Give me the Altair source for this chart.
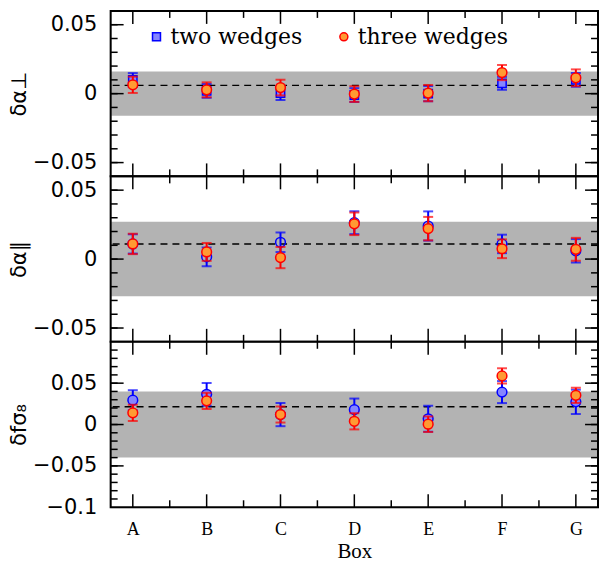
import json
import altair as alt
import pandas as pd

# ---------------- data ----------------
boxes = ["A", "B", "C", "D", "E", "F", "G"]
box_pos = [1, 2, 3, 4, 5, 6, 7]
series_names = ["two wedges", "three wedges"]

# delta alpha_perp
perp_two = [0.0099, 0.0020, 0.0004, -0.0010, 0.0000, 0.0075, 0.0100]
perp_two_err = [0.0050, 0.0050, 0.0050, 0.0050, 0.0055, 0.0047, 0.0050]
perp_three = [0.0064, 0.0028, 0.0044, -0.0003, 0.0004, 0.0153, 0.0115]
perp_three_err = [0.0059, 0.0054, 0.0057, 0.0057, 0.0059, 0.0055, 0.0061]
perp_band = 0.016
perp_line = 0.006

# delta alpha_parallel
par_two = [0.0110, 0.0016, 0.0122, 0.0264, 0.0240, 0.0110, 0.0060]
par_two_err = [0.0070, 0.0068, 0.0071, 0.0083, 0.0106, 0.0067, 0.0085]
par_three = [0.0110, 0.0052, 0.0011, 0.0256, 0.0221, 0.0075, 0.0071]
par_three_err = [0.0074, 0.0065, 0.0077, 0.0082, 0.0085, 0.0068, 0.0083]
par_band = 0.027
par_line = 0.011

# delta f sigma_8
fs_two = [0.0294, 0.0365, 0.0120, 0.0180, 0.0070, 0.0392, 0.0274]
fs_two_err = [0.0121, 0.0137, 0.0140, 0.0134, 0.0157, 0.0133, 0.0147]
fs_three = [0.0141, 0.0286, 0.0121, 0.0039, 0.0004, 0.0588, 0.0353]
fs_three_err = [0.0098, 0.0098, 0.0097, 0.0098, 0.0094, 0.0092, 0.0092]
fs_band = 0.040
fs_line = 0.0215

# axis ticks
alpha_labels = [-0.05, 0.0, 0.05]
alpha_major = [-0.05, 0.0, 0.05]
alpha_minor = [-0.05, -0.04, -0.03, -0.02, -0.01, 0.0, 0.01, 0.02, 0.03, 0.04, 0.05]
fs_labels = [-0.1, -0.05, 0.0, 0.05]
fs_major = [-0.05, 0.0, 0.05]
fs_minor = [-0.09, -0.08, -0.07, -0.06, -0.05, -0.04, -0.03, -0.02, -0.01, 0.0,
            0.01, 0.02, 0.03, 0.04, 0.05, 0.06, 0.07, 0.08, 0.09]
x_major = [1, 2, 3, 4, 5, 6, 7]
x_minor = [1.5, 2.5, 3.5, 4.5, 5.5, 6.5]

# ---------------- style ----------------
W, H = 489, 166
MAJ, MIN = 13, 7
BLUE, RED = "#0000ff", "#ff0000"
ORANGE = "#ff9a33"
LIGHTBLUE = "#8585ff"
GRAY = "#b3b3b3"


def make_df(vals, errs, name):
    return pd.DataFrame({
        "x": box_pos,
        "v": vals,
        "lo": [v - e for v, e in zip(vals, errs)],
        "hi": [v + e for v, e in zip(vals, errs)],
        "series": name,
    })


def panel(two, two_err, three, three_err, ydom, band, line, ytitle,
          ylabels, ymajor, yminor, blue_kind, bottom):
    d2 = make_df(two, two_err, series_names[0])
    d3 = make_df(three, three_err, series_names[1])

    yscale = alt.Scale(domain=ydom, nice=False, zero=False)
    yaxis = alt.Axis(values=ylabels, format="~g", ticks=False, domain=False, grid=False,
                     labelFont="DejaVu Sans", labelFontSize=21, labelColor="black",
                     labelPadding=14, title=ytitle, titleFont="DejaVu Sans",
                     titleFontSize=21, titleFontWeight="normal", titleColor="black",
                     titlePadding=3, minExtent=78, maxExtent=78)
    xscale = alt.Scale(domain=[0.7, 7.3], nice=False, zero=False)
    if bottom:
        xaxis = alt.Axis(values=box_pos,
                         labelExpr=json.dumps(boxes) + "[datum.value - 1]",
                         ticks=False, domain=False, grid=False,
                         labelFont="Liberation Serif", labelFontSize=18, labelColor="black",
                         labelPadding=13, title="Box", titleFont="Liberation Serif",
                         titleFontSize=21, titleFontWeight="normal", titleColor="black",
                         titlePadding=2)
    else:
        xaxis = None

    def Y(f):
        return alt.Y(f, scale=yscale, axis=yaxis)

    def X(f):
        return alt.X(f, scale=xscale, axis=xaxis)

    layers = []
    # band
    layers.append(alt.Chart(pd.DataFrame({"lo": [-band], "hi": [band]})).mark_rect(
        color=GRAY).encode(x=alt.value(0), x2=alt.value(W), y=Y("lo:Q"), y2="hi:Q"))
    # dashed line
    layers.append(alt.Chart(pd.DataFrame({"c": [line]})).mark_rule(
        color="black", strokeDash=[7, 5], strokeWidth=1.5).encode(y=Y("c:Q")))

    # ticks (inside, all four sides)
    tk = dict(color="black", strokeWidth=1.5)
    ymaj = pd.DataFrame({"t": ymajor})
    ymin = pd.DataFrame({"t": yminor})
    xmaj = pd.DataFrame({"t": x_major})
    xmin = pd.DataFrame({"t": x_minor})
    for d, L in ((ymin, MIN), (ymaj, MAJ)):
        layers.append(alt.Chart(d).mark_rule(**tk).encode(
            y=Y("t:Q"), x=alt.value(0), x2=alt.value(L)))
        layers.append(alt.Chart(d).mark_rule(**tk).encode(
            y=Y("t:Q"), x=alt.value(W - L), x2=alt.value(W)))
    for d, L in ((xmin, MIN), (xmaj, MAJ)):
        layers.append(alt.Chart(d).mark_rule(**tk).encode(
            x=X("t:Q"), y=alt.value(0), y2=alt.value(L)))
        layers.append(alt.Chart(d).mark_rule(**tk).encode(
            x=X("t:Q"), y=alt.value(H - L), y2=alt.value(H)))

    def errbars(d, col):
        out = [alt.Chart(d).mark_rule(color=col, strokeWidth=2).encode(
            x=X("x:Q"), y=Y("lo:Q"), y2="hi:Q")]
        for f in ("lo", "hi"):
            out.append(alt.Chart(d).mark_tick(
                color=col, orient="horizontal", size=10, thickness=2).encode(
                x=X("x:Q"), y=Y(f + ":Q")))
        return out

    legend = alt.Legend(orient="none", legendX=35, legendY=15, direction="horizontal",
                        title=None, labelFont="DejaVu Serif", labelFontSize=22,
                        labelColor="black", symbolSize=64, symbolStrokeWidth=1.5,
                        labelOffset=3, columnPadding=30, padding=0)

    def legend_enc():
        return dict(
            shape=alt.Shape("series:N", scale=alt.Scale(domain=series_names,
                                                        range=["square", "circle"]),
                            legend=legend),
            fill=alt.Fill("series:N", scale=alt.Scale(domain=series_names,
                                                      range=[LIGHTBLUE, ORANGE]),
                          legend=legend),
            stroke=alt.Stroke("series:N", scale=alt.Scale(domain=series_names,
                                                          range=[BLUE, RED]),
                              legend=legend),
        )

    # blue (two wedges)
    layers += errbars(d2, BLUE)
    if blue_kind == "square":
        layers.append(alt.Chart(d2).mark_point(filled=True, size=70, strokeWidth=1.5,
                                               opacity=1).encode(
            x=X("x:Q"), y=Y("v:Q"), **legend_enc()))
    elif blue_kind == "open":
        layers.append(alt.Chart(d2).mark_point(shape="circle", filled=False, size=95,
                                               stroke=BLUE, strokeWidth=1.5,
                                               opacity=1).encode(
            x=X("x:Q"), y=Y("v:Q")))
    else:
        layers.append(alt.Chart(d2).mark_point(shape="circle", filled=True, size=95,
                                               fill=LIGHTBLUE, stroke=BLUE,
                                               strokeWidth=1.5, opacity=1).encode(
            x=X("x:Q"), y=Y("v:Q")))

    # red/orange (three wedges)
    layers += errbars(d3, RED)
    if blue_kind == "square":
        layers.append(alt.Chart(d3).mark_point(filled=True, size=95, strokeWidth=1.5,
                                               opacity=1).encode(
            x=X("x:Q"), y=Y("v:Q"), **legend_enc()))
    else:
        layers.append(alt.Chart(d3).mark_point(shape="circle", filled=True, size=95,
                                               fill=ORANGE, stroke=RED,
                                               strokeWidth=1.5, opacity=1).encode(
            x=X("x:Q"), y=Y("v:Q")))

    # frame
    layers.append(alt.Chart(pd.DataFrame({"a": [0]})).mark_rect(
        filled=False, stroke="black", strokeWidth=2).encode(
        x=alt.value(0), x2=alt.value(W), y=alt.value(0), y2=alt.value(H)))

    return alt.layer(*layers).properties(width=W, height=H)


p1 = panel(perp_two, perp_two_err, perp_three, perp_three_err, [-0.06, 0.06],
           perp_band, perp_line, "δα⊥", alpha_labels, alpha_major, alpha_minor,
           "square", False)
p2 = panel(par_two, par_two_err, par_three, par_three_err, [-0.06, 0.06],
           par_band, par_line, "δα∥", alpha_labels, alpha_major, alpha_minor,
           "open", False)
p3 = panel(fs_two, fs_two_err, fs_three, fs_three_err, [-0.1, 0.1],
           fs_band, fs_line, "δfσ₈", fs_labels, fs_major, fs_minor,
           "filled", True)

chart = alt.vconcat(p1, p2, p3, spacing=0, bounds="flush").properties(
    padding={"left": 0, "right": 0, "top": 0, "bottom": 0}
).configure_view(stroke=None).configure(background="white")

chart.save("out.html", embed_options={"renderer": "svg", "actions": False})
